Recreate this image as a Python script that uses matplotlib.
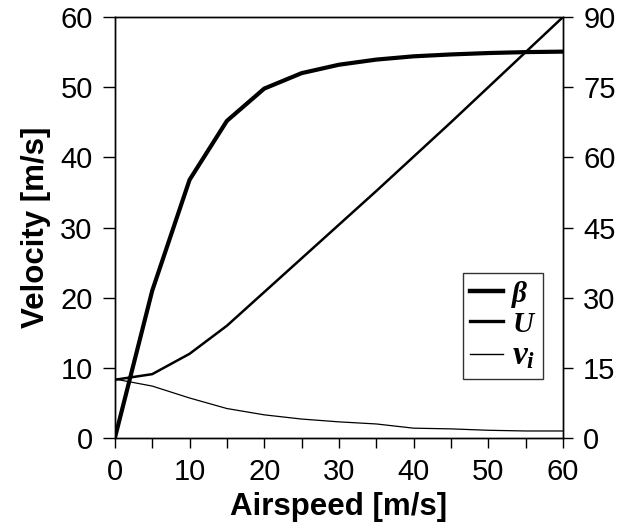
import matplotlib.pyplot as plt
from matplotlib.ticker import MultipleLocator

# 数据
airspeed = [0, 5, 10, 15, 20, 25, 30, 35, 40, 45, 50, 55, 60]
beta = [0, 31.5, 55.2, 67.8, 74.7, 78.0, 79.8, 80.9, 81.6, 82.0, 82.3, 82.5, 82.6]   # 右轴
U = [8.3, 9.1, 12.0, 16.0, 20.8, 25.6, 30.4, 35.2, 40.1, 45.0, 50.0, 55.0, 60.0]
vi = [8.4, 7.4, 5.7, 4.2, 3.3, 2.7, 2.3, 2.0, 1.4, 1.3, 1.1, 1.0, 1.0]

plt.rcParams['font.family'] = ['Liberation Sans', 'DejaVu Sans']
plt.rcParams['mathtext.fontset'] = 'custom'
plt.rcParams['mathtext.rm'] = 'Liberation Serif:bold:italic'
plt.rcParams['mathtext.it'] = 'Liberation Serif:bold:italic'
plt.rcParams['mathtext.bf'] = 'Liberation Serif:bold:italic'

fig = plt.figure(figsize=(6.21, 5.32), dpi=100)
ax = fig.add_axes([0.185, 0.1767, 0.7216, 0.7913])
ax2 = ax.twinx()

l1, = ax2.plot(airspeed, beta, color='k', lw=3.0)
l2, = ax.plot(airspeed, U, color='k', lw=1.8)
l3, = ax.plot(airspeed, vi, color='k', lw=0.9)

ax.set_xlim(0, 60)
ax.set_ylim(0, 60)
ax2.set_ylim(0, 90)
ax.xaxis.set_major_locator(MultipleLocator(10))
ax.xaxis.set_minor_locator(MultipleLocator(5))
ax.yaxis.set_major_locator(MultipleLocator(10))
ax2.yaxis.set_major_locator(MultipleLocator(15))

for a in (ax, ax2):
    a.tick_params(which='both', direction='out', width=1, labelsize=21, pad=7)
    a.tick_params(which='both', length=7.5)
    for s in a.spines.values():
        s.set_linewidth(1)
ax.tick_params(axis='y', length=9, pad=7)

ax.set_xlabel('Airspeed [m/s]', fontsize=22.5, fontweight='bold', labelpad=4)
ax.set_ylabel('Velocity [m/s]', fontsize=22.5, fontweight='bold', labelpad=7)

leg_font = {'family': 'Liberation Serif', 'style': 'italic', 'weight': 'bold', 'size': 21}
leg = ax.legend([l1, l2, l3], ['\u03b2', 'U', '$v_i$'],
                loc='upper left', bbox_to_anchor=(0.776, 0.391),
                frameon=True, fancybox=False, edgecolor='k',
                prop=leg_font, handlelength=1.15, handletextpad=0.3,
                borderpad=0.25, labelspacing=0.1, borderaxespad=0)
leg.get_frame().set_linewidth(1)
leg.get_texts()[2].set_fontsize(24)
leg.get_lines()[0].set_linewidth(3.2)
leg.get_lines()[1].set_linewidth(2.4)
leg.get_lines()[2].set_linewidth(1.0)

fig.savefig('out.png', dpi=100)
